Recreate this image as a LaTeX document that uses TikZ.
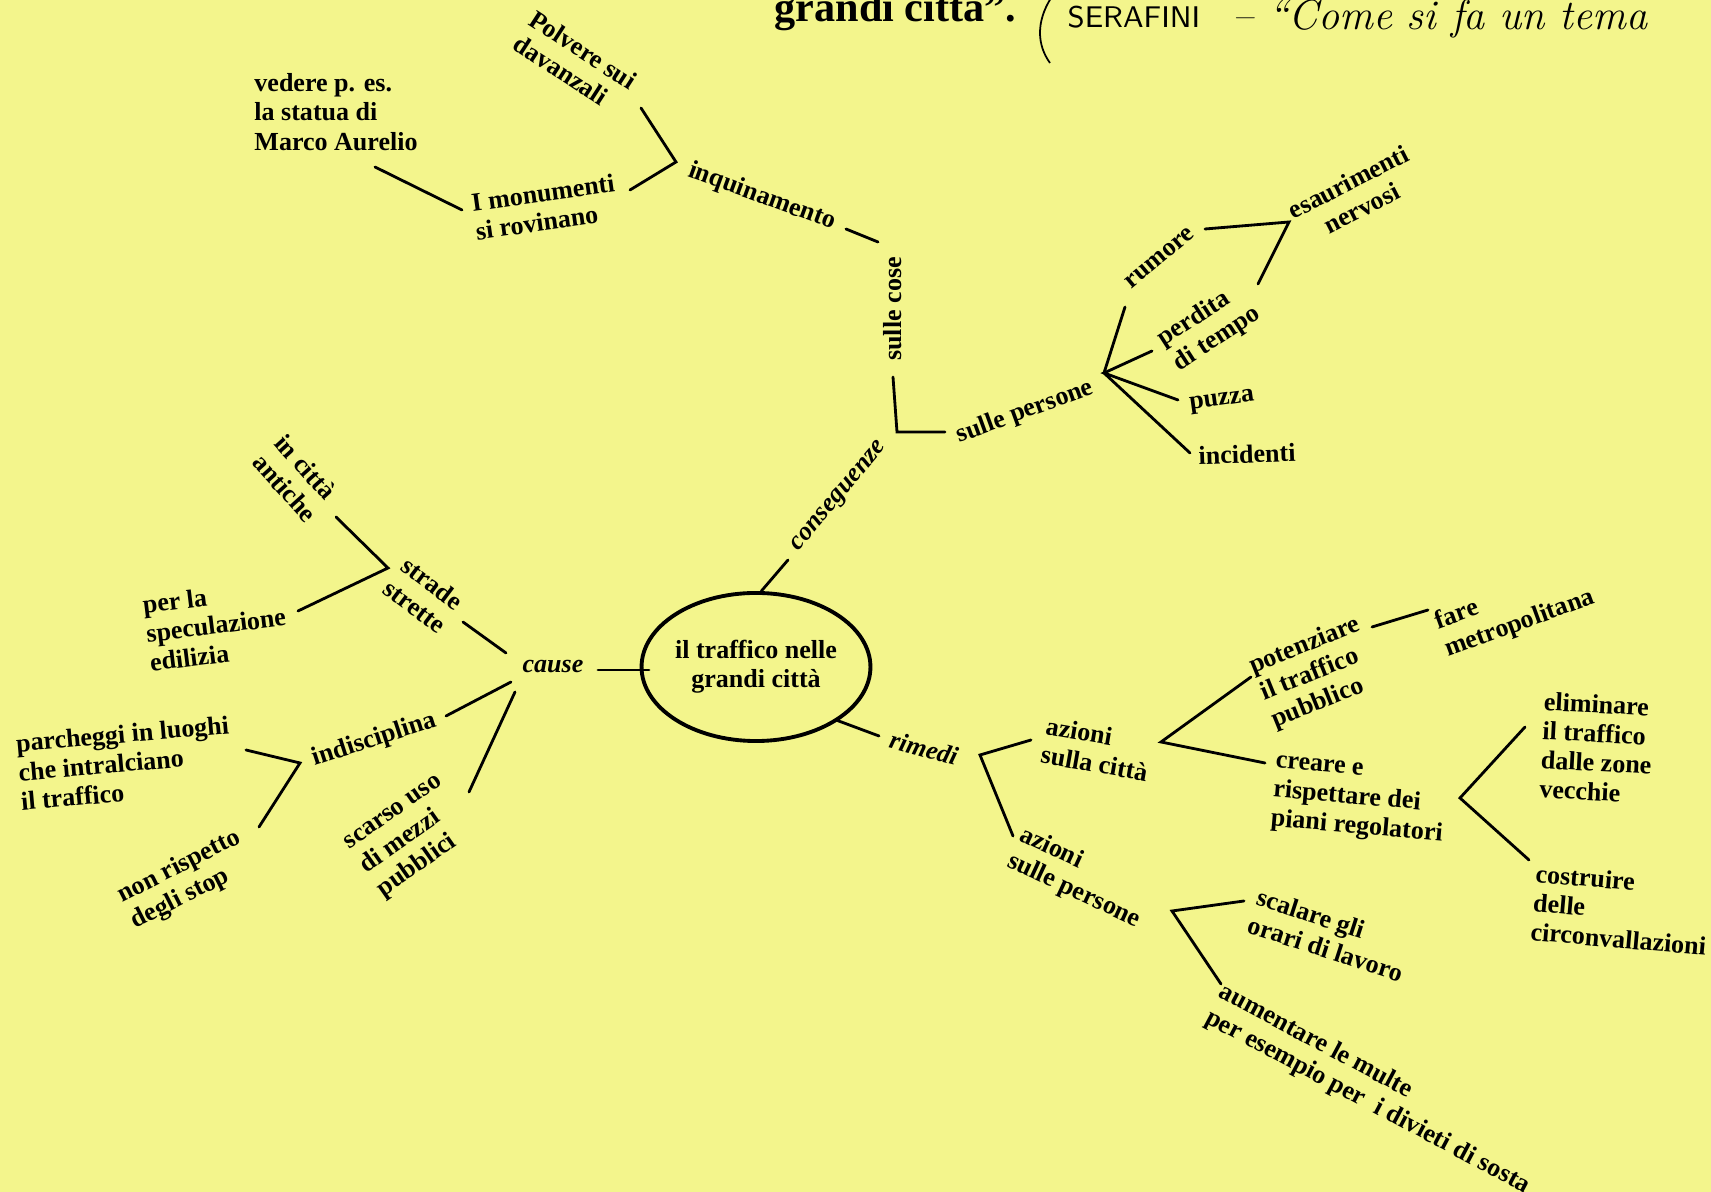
\documentclass[tikz,border=0pt]{standalone}
\usepackage{fontspec}
\newfontfamily\printfont{Liberation Serif}
\usetikzlibrary{shapes.geometric}
\definecolor{paper}{RGB}{243,245,140}
\tikzset{
	lbl/.style={font=\printfont\bfseries\fontsize{7.4}{8.3}\selectfont, align=left, inner sep=0pt},
	br/.style={line width=0.8pt, line cap=round},
}

\begin{document}
\begin{tikzpicture}[x=0.01cm, y=-0.01cm]
			%%%%% START %%%%%
			\fill[paper] (0, 0) rectangle (1711, 1192);
			\useasboundingbox (0, 0) rectangle (1711, 1192);
			
			% intestazione
			\node[anchor=base west, inner sep=0pt, font=\printfont\bfseries\fontsize{12}{12}\selectfont] (titolo) at (774, 22) {grandi città”.};
			\draw[line width=0.5pt] (1051, -2) .. controls (1036, 22) and (1037, 45) .. (1050, 63);
			\node[anchor=base west, inner sep=0pt, font=\sffamily\fontsize{8.5}{8.5}\selectfont\addfontfeature{LetterSpace=6}] (fonte) at (1067, 28) {SERAFINI};
			\node[anchor=base west, inner sep=0pt, font=\itshape\fontsize{12}{12}\selectfont\addfontfeature{LetterSpace=16}] (tema) at (1232, 30) {-- “Come si fa un tema};
			
			% centro
			\node[draw, ellipse, line width=1.1pt, minimum width=2.12cm, minimum height=1.48cm, lbl, align=center] (centro) at (756, 667) {il traffico nelle\\grandi città};
			
			% conseguenze
			\node[lbl, rotate=50, font=\printfont\bfseries\itshape\fontsize{7.4}{8.3}\selectfont] (conseg) at (840, 497) {conseguenze};
			\node[lbl, rotate=90] (cose) at (893, 309) {sulle cose};
			\node[lbl, rotate=-20] (inquin) at (762, 197) {inquinamento};
			\node[lbl, rotate=-33] (polvere) at (575, 62) {Polvere sui\\davanzali};
			\node[lbl, rotate=8] (monum) at (545, 207) {I monumenti\\si rovinano};
			\node[lbl] (statua) at (336, 112) {vedere p. es.\\la statua di\\Marco Aurelio};
			\node[lbl, rotate=20] (persone) at (1025, 412) {sulle persone};
			\node[lbl, rotate=40] (rumore) at (1160, 258) {rumore};
			\node[lbl, rotate=33] (perdita) at (1209, 327) {perdita\\di tempo};
			\node[lbl, rotate=8] (puzza) at (1222, 402) {puzza};
			\node[lbl, rotate=2] (incid) at (1247, 454) {incidenti};
			\node[lbl, rotate=27, align=center] (esaur) at (1355, 195) {esaurimenti\\nervosi};
			
			\coordinate (cons1) at (788, 560);
			\coordinate (jCons) at (897, 432);
			\coordinate (cCose) at (893, 377);
			\coordinate (cPers) at (945, 432);
			\coordinate (cInq1) at (846, 229);
			\coordinate (cInq2) at (878, 242);
			\coordinate (vInq) at (676, 162);
			\coordinate (aPolv) at (641, 108);
			\coordinate (aMon) at (630, 190);
			\coordinate (aMon2) at (462, 210);
			\coordinate (aStat) at (375, 167);
			\coordinate (vPers) at (1104, 373);
			\coordinate (aRum) at (1125, 307);
			\coordinate (aPerd) at (1152, 351);
			\coordinate (aPuz) at (1178, 400);
			\coordinate (aInc) at (1190, 453);
			\coordinate (aRum2) at (1205, 229);
			\coordinate (vEsau) at (1289, 222);
			\coordinate (aPerd2) at (1258, 284);
			
			\draw[br] (centro.86) -- (cons1);
			\draw[br] (cCose) -- (jCons) -- (cPers);
			\draw[br] (cInq1) -- (cInq2);
			\draw[br] (aPolv) -- (vInq) -- (aMon);
			\draw[br] (aMon2) -- (aStat);
			\draw[br] (aRum) -- (vPers) -- (aInc);
			\draw[br] (aPerd) -- (vPers) -- (aPuz);
			\draw[br] (aRum2) -- (vEsau) -- (aPerd2);
			
			% cause
			\node[lbl, font=\printfont\bfseries\itshape\fontsize{7.4}{8.3}\selectfont] (cause) at (553, 667) {cause};
			\node[lbl, rotate=-37] (strade) at (424, 595) {strade\\strette};
			\node[lbl, rotate=-48] (antiche) at (296, 478) {in città\\antiche};
			\node[lbl, rotate=7] (specul) at (216, 625) {per la\\speculazione\\edilizia};
			\node[lbl, rotate=18] (indisc) at (374, 740) {indisciplina};
			\node[lbl, rotate=5] (parch) at (125, 763) {parcheggi in luoghi\\che intralciano\\il traffico};
			\node[lbl, rotate=27] (stop) at (186, 880) {non rispetto\\degli stop};
			\node[lbl, rotate=35] (scarso) at (411, 838) {scarso uso\\di mezzi\\pubblici};
			
			\coordinate (cCau1) at (649, 670);
			\coordinate (cCau2) at (598, 670);
			\coordinate (aStr1) at (506, 653);
			\coordinate (aStr2) at (463, 622);
			\coordinate (aInd1) at (511, 682);
			\coordinate (aInd2) at (446, 716);
			\coordinate (aSca1) at (515, 692);
			\coordinate (aSca2) at (469, 792);
			\coordinate (vStr) at (388, 568);
			\coordinate (aAnt) at (336, 517);
			\coordinate (aSpe) at (298, 611);
			\coordinate (vInd) at (300, 763);
			\coordinate (aPar) at (246, 750);
			\coordinate (aStop) at (259, 827);
			
			\draw[br] (cCau1) -- (cCau2);
			\draw[br] (aStr1) -- (aStr2);
			\draw[br] (aInd1) -- (aInd2);
			\draw[br] (aSca1) -- (aSca2);
			\draw[br] (aAnt) -- (vStr) -- (aSpe);
			\draw[br] (aPar) -- (vInd) -- (aStop);
			
			% rimedi
			\node[lbl, rotate=-15, font=\printfont\bfseries\itshape\fontsize{7.4}{8.3}\selectfont] (rimedi) at (924, 748) {rimedi};
			\node[lbl, rotate=-10] (citta) at (1097, 749) {azioni\\sulla città};
			\node[lbl, rotate=-25] (perspers) at (1080, 878) {azioni\\sulle persone};
			\node[lbl, rotate=22] (potenz) at (1316, 673) {potenziare\\il traffico\\pubblico};
			\node[lbl, rotate=20] (metro) at (1515, 610) {fare\\metropolitana};
			\node[lbl, rotate=-5] (piani) at (1359, 801) {creare e\\rispettare dei\\piani regolatori};
			\node[lbl, rotate=-3] (elim) at (1597, 748) {eliminare\\il traffico\\dalle zone\\vecchie};
			\node[lbl, rotate=-5] (circonv) at (1621, 910) {costruire\\delle\\circonvallazioni};
			\node[lbl, rotate=-18] (orari) at (1330, 935) {scalare gli\\orari di lavoro};
			\node[lbl, rotate=-28, anchor=north west] (multe) at (1226, 980) {aumentare le multe\\per esempio per~ i divieti di sosta};
			
			\coordinate (cRim1) at (836, 720);
			\coordinate (cRim2) at (879, 736);
			\coordinate (vRim) at (980, 755);
			\coordinate (aCit) at (1031, 740);
			\coordinate (aPer) at (1013, 836);
			\coordinate (vCit) at (1161, 742);
			\coordinate (aPot) at (1251, 677);
			\coordinate (aCre) at (1265, 763);
			\coordinate (aPot2) at (1372, 627);
			\coordinate (aFare) at (1428, 610);
			\coordinate (vPia) at (1460, 798);
			\coordinate (aEli) at (1525, 727);
			\coordinate (aCos) at (1529, 860);
			\coordinate (vPer) at (1172, 911);
			\coordinate (aSca) at (1244, 901);
			\coordinate (aMul) at (1221, 984);
			
			\draw[br] (cRim1) -- (cRim2);
			\draw[br] (aCit) -- (vRim) -- (aPer);
			\draw[br] (aPot) -- (vCit) -- (aCre);
			\draw[br] (aPot2) -- (aFare);
			\draw[br] (aEli) -- (vPia) -- (aCos);
			\draw[br] (aSca) -- (vPer) -- (aMul);
			
			%%%%% END %%%%%
\end{tikzpicture}
\end{document}
